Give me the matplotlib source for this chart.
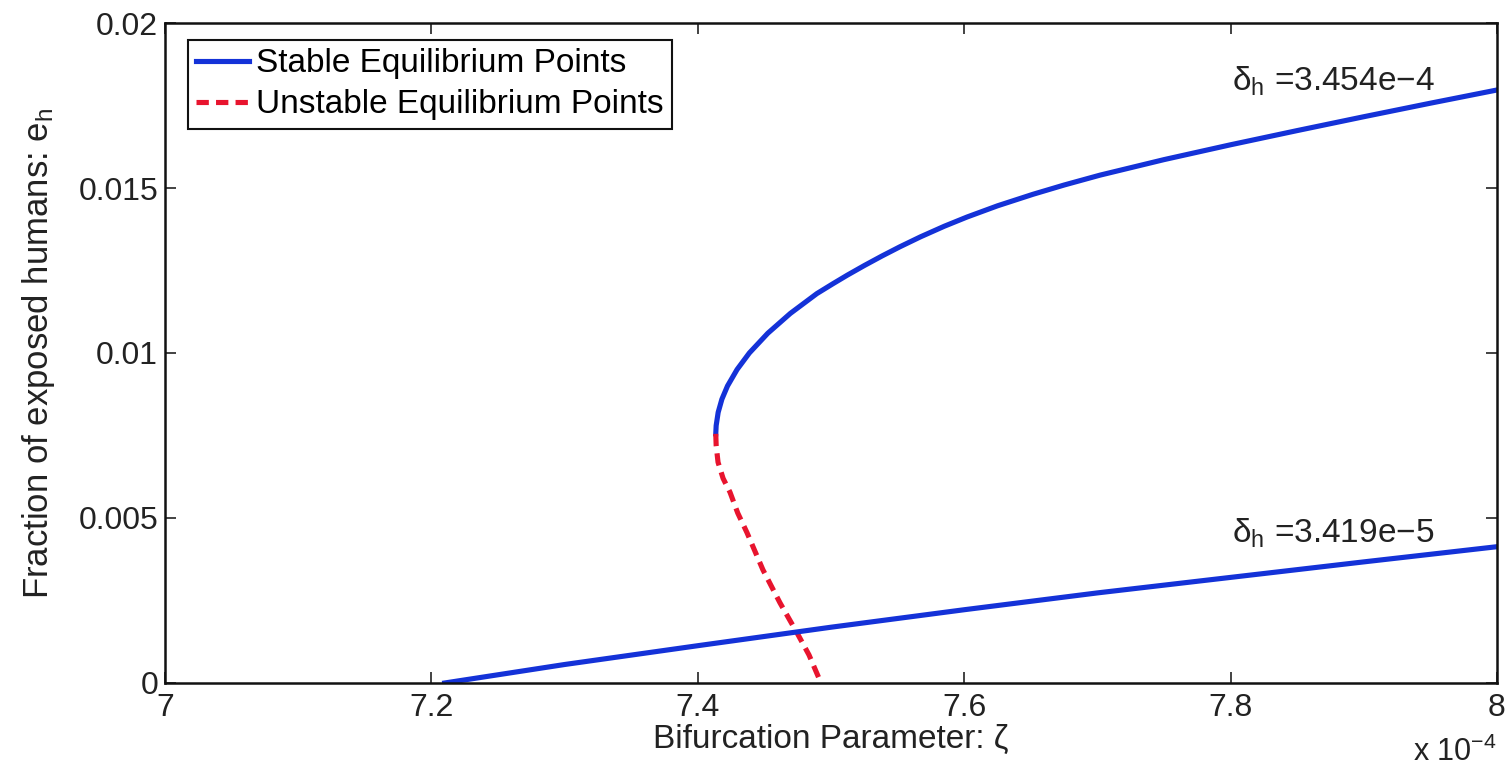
import matplotlib
matplotlib.use('Agg')
import matplotlib.pyplot as plt

# stable branch, delta_h = 3.454e-4 (upper part of the fold)
upper_x = [7.4135, 7.4138, 7.4153, 7.4181, 7.4223, 7.4295, 7.4387, 7.4526, 7.4695, 7.4894,
           7.5015, 7.5123, 7.5250, 7.5383, 7.5518, 7.5672, 7.5850, 7.6021, 7.6250, 7.6517,
           7.6750, 7.7020, 7.7500, 7.8000, 7.8500, 7.9000, 7.9500, 8.0000]
upper_y = [0.00755, 0.00780, 0.00820, 0.00860, 0.00900, 0.00950, 0.01000, 0.01060, 0.01120, 0.01180,
           0.01210, 0.01236, 0.01265, 0.01294, 0.01322, 0.01352, 0.01384, 0.01412, 0.01446, 0.01481,
           0.01509, 0.01539, 0.01586, 0.01631, 0.01674, 0.01716, 0.01757, 0.01797]

# unstable branch, delta_h = 3.454e-4
unst_x = [7.4135, 7.4138, 7.4152, 7.4190, 7.4242, 7.4300, 7.4369, 7.4489, 7.4617, 7.4745, 7.4835, 7.4925]
unst_y = [0.00755, 0.00720, 0.00669, 0.00620, 0.00578, 0.00515, 0.00456, 0.00343, 0.00243, 0.00152, 0.00085, 0.0]

# stable branch, delta_h = 3.419e-5
lower_x = [7.21, 7.30, 7.40, 7.50, 7.60, 7.70, 7.80, 7.90, 8.00]
lower_y = [0.0, 0.00056, 0.00113, 0.00169, 0.00222, 0.00273, 0.00320, 0.00367, 0.00413]

x_ticks = [7, 7.2, 7.4, 7.6, 7.8, 8]
x_tick_labels = ['7', '7.2', '7.4', '7.6', '7.8', '8']
y_ticks = [0, 0.005, 0.01, 0.015, 0.02]
y_tick_labels = ['0', '0.005', '0.01', '0.015', '0.02']

plt.rcParams['font.family'] = ['Liberation Sans', 'DejaVu Sans']
plt.rcParams['mathtext.fontset'] = 'custom'
plt.rcParams['mathtext.rm'] = 'Liberation Sans'
plt.rcParams['mathtext.it'] = 'Liberation Sans'

BLUE = '#1432d8'
RED = '#e8142e'
TXT = '#222222'
FS = 24

fig = plt.figure(figsize=(15.08, 7.72), dpi=100)
ax = fig.add_axes([0.1094, 0.1153, 0.8833, 0.8549])

ax.plot(upper_x, upper_y, color=BLUE, lw=3.7, label='Stable Equilibrium Points')
ax.plot(unst_x, unst_y, color=RED, lw=3.7, ls=(0, (2.4, 1.4)), label='Unstable Equilibrium Points')
ax.plot(lower_x, lower_y, color=BLUE, lw=3.7)

ax.set_xlim(7, 8)
ax.set_ylim(0, 0.02)
ax.set_xticks(x_ticks)
ax.set_xticklabels(x_tick_labels)
ax.set_yticks(y_ticks)
ax.set_yticklabels(y_tick_labels)
ax.tick_params(direction='in', top=True, right=True, length=8, width=1.2,
               labelsize=23, colors=TXT)
ax.tick_params(axis='x', pad=7)
ax.tick_params(axis='y', pad=5)
for s in ax.spines.values():
    s.set_linewidth(1.8)
    s.set_color('#111111')

ax.set_xlabel('Bifurcation Parameter: ζ', fontsize=FS, labelpad=1, color=TXT)
ax.set_ylabel('Fraction of exposed humans: e$_\\mathregular{h}$', fontsize=25, labelpad=15, color=TXT)
fig.text(1497 / 1508, 4 / 772, 'x 10$^{\\mathregular{-4}}$', ha='right', va='bottom',
         fontsize=22, color=TXT)

ax.text(7.801, 0.01796, 'δ$_\\mathregular{h}$ =3.454e−4', fontsize=FS, va='baseline', color=TXT)
ax.text(7.801, 0.00424, 'δ$_\\mathregular{h}$ =3.419e−5', fontsize=FS, va='baseline', color=TXT)

leg = ax.legend(loc='upper left', bbox_to_anchor=(0.017, 0.974), borderaxespad=0,
                fontsize=FS, handlelength=1.6, handletextpad=0.2, borderpad=0.25,
                labelspacing=0.3, fancybox=False, edgecolor='#111111', framealpha=1)
leg.get_frame().set_linewidth(1.5)

plt.savefig('out.png', dpi=100)
